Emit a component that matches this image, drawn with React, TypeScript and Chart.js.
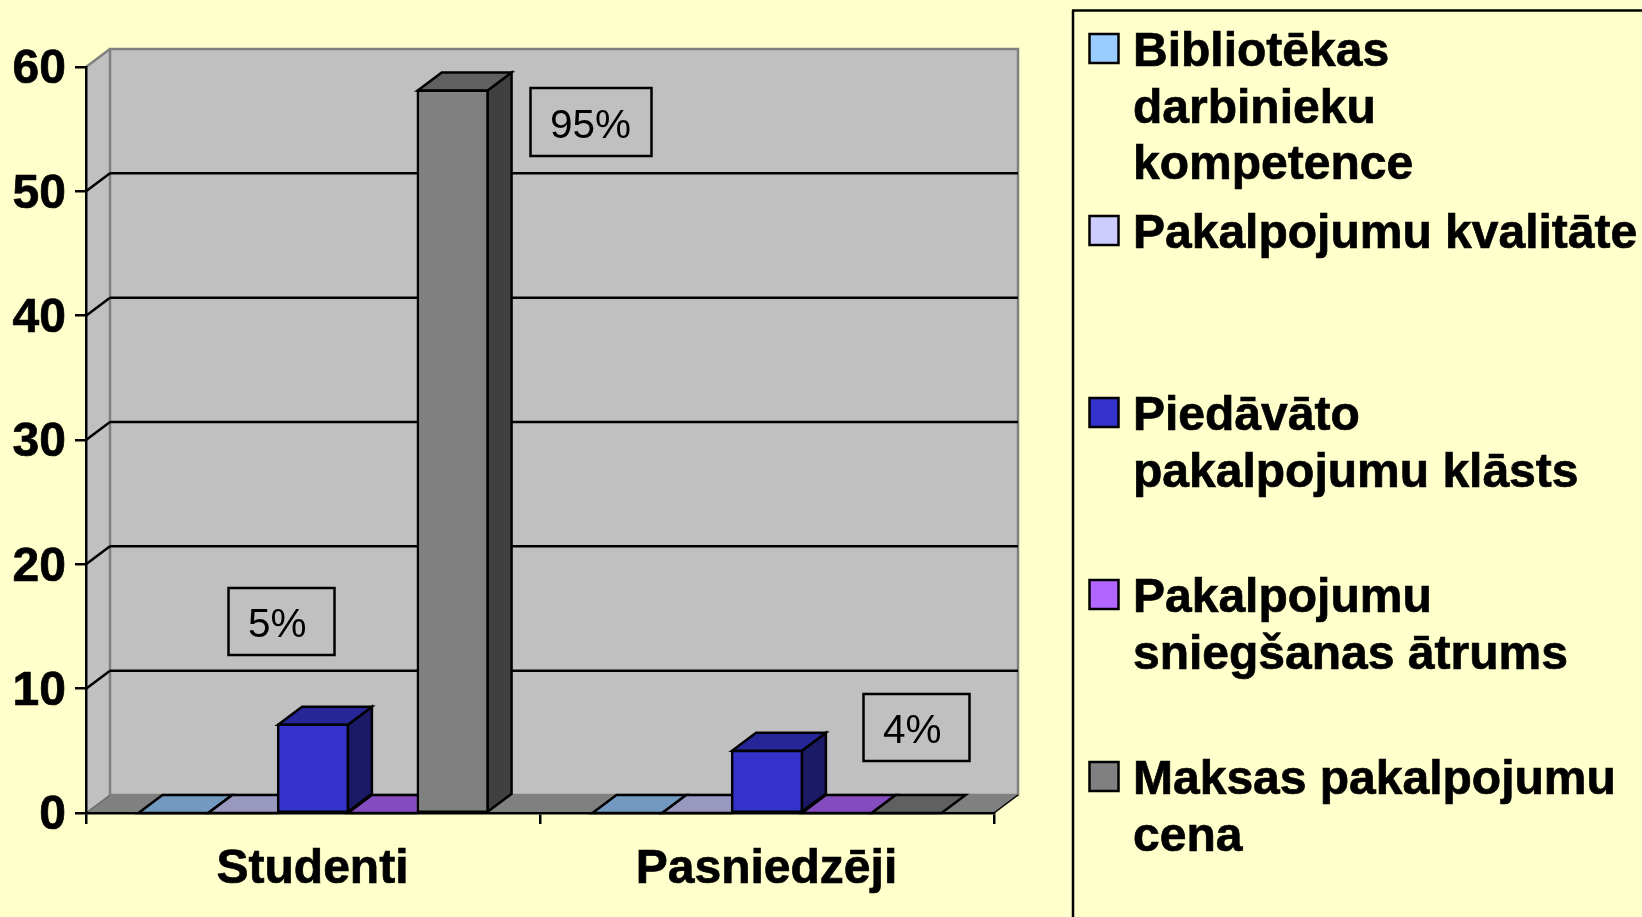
import React, { useEffect, useRef } from "react";
import { Chart, registerables } from "chart.js";

Chart.register(...registerables);

const categories = ["Studenti", "Pasniedzēji"];
const seriesNames = [
  "Bibliotēkas darbinieku kompetence",
  "Pakalpojumu kvalitāte",
  "Piedāvāto pakalpojumu klāsts",
  "Pakalpojumu sniegšanas ātrums",
  "Maksas pakalpojumu cena",
];
const legendLines = [
  ["Bibliotēkas", "darbinieku", "kompetence"],
  ["Pakalpojumu kvalitāte"],
  ["Piedāvāto", "pakalpojumu klāsts"],
  ["Pakalpojumu", "sniegšanas ātrums"],
  ["Maksas pakalpojumu", "cena"],
];
const kompetence = [0, 0];
const kvalitate = [0, 0];
const klasts = [7.1, 5];
const atrums = [0, 0];
const cena = [58.1, 0];
const seriesValues = [kompetence, kvalitate, klasts, atrums, cena];
const frontColors = ["#99CCFF", "#CCCCFF", "#3333CC", "#B266FF", "#808080"];
const topColors = ["#7299BF", "#9999BF", "#262699", "#854CBF", "#606060"];
const sideColors = ["#4C6680", "#666680", "#1A1A66", "#593380", "#404040"];
const calloutTexts = ["5%", "95%", "4%"];

const FONT = '"Liberation Sans", Arial, sans-serif';
const BG = "#FFFFCC";
const DX = 24;
const DY = -18;
const W = 1642;
const H = 917;
const PLOT = { left: 86, right: 994, top: 67, bottom: 813 };
const STROKE = 2.5;

const callouts = [
  { x: 228.5, y: 588, w: 106, h: 67, tx: 248, ty: 637 },
  { x: 530.5, y: 88, w: 121, h: 68, tx: 550, ty: 138 },
  { x: 863.5, y: 694, w: 106, h: 67, tx: 883, ty: 743 },
];

function poly(ctx: CanvasRenderingContext2D, pts: number[][], fill: string | null, stroke: string | null, lw = STROKE) {
  ctx.beginPath();
  pts.forEach((p, i) => (i ? ctx.lineTo(p[0], p[1]) : ctx.moveTo(p[0], p[1])));
  ctx.closePath();
  if (fill) {
    ctx.fillStyle = fill;
    ctx.fill();
  }
  if (stroke) {
    ctx.strokeStyle = stroke;
    ctx.lineWidth = lw;
    ctx.stroke();
  }
}

function line(ctx: CanvasRenderingContext2D, x1: number, y1: number, x2: number, y2: number, color: string, lw = STROKE) {
  ctx.beginPath();
  ctx.moveTo(x1, y1);
  ctx.lineTo(x2, y2);
  ctx.strokeStyle = color;
  ctx.lineWidth = lw;
  ctx.stroke();
}

const scene3d = {
  id: "scene3d",
  beforeDraw(chart: any) {
    const ctx = chart.ctx;
    const { left, right, top, bottom } = chart.chartArea;
    const y = chart.scales.y;
    ctx.save();
    // side wall, back wall, floor
    poly(ctx, [[left, top], [left + DX, top + DY], [left + DX, bottom + DY], [left, bottom]], "#C0C0C0", null);
    poly(ctx, [[left + DX, top + DY], [right + DX, top + DY], [right + DX, bottom + DY], [left + DX, bottom + DY]], "#C0C0C0", "#808080");
    line(ctx, left, top, left + DX, top + DY, "#808080");
    poly(ctx, [[left, bottom], [right, bottom], [right + DX, bottom + DY], [left + DX, bottom + DY]], "#808080", null);
    line(ctx, right, bottom, right + DX, bottom + DY, "#000000", 1.5);
    line(ctx, left, bottom, left + DX, bottom + DY, "#6a6a6a", 1.5);
    // gridlines on the walls
    y.ticks.forEach((t: any) => {
      if (t.value === 0 || t.value === y.max) return;
      const py = y.getPixelForValue(t.value);
      line(ctx, left, py, left + DX, py + DY, "#000000");
      line(ctx, left + DX, py + DY, right + DX, py + DY, "#000000");
    });
    ctx.restore();
  },
  beforeDatasetsDraw(chart: any) {
    const ctx = chart.ctx;
    ctx.save();
    ctx.lineJoin = "miter";
    categories.forEach((_, c) => {
      seriesValues.forEach((_s, d) => {
        const bar = chart.getDatasetMeta(d).data[c];
        const l = bar.x - bar.width / 2;
        const r = bar.x + bar.width / 2;
        const t = bar.y;
        const b = bar.base;
        if (b - t > 0.5) {
          poly(ctx, [[r, t], [r + DX, t + DY], [r + DX, b + DY], [r, b]], sideColors[d], "#000000");
        }
        poly(ctx, [[l, t], [r, t], [r + DX, t + DY], [l + DX, t + DY]], topColors[d], "#000000");
      });
    });
    ctx.restore();
  },
  afterDatasetsDraw(chart: any) {
    const ctx = chart.ctx;
    ctx.save();
    // callouts
    callouts.forEach((c, i) => {
      ctx.fillStyle = "#C0C0C0";
      ctx.fillRect(c.x, c.y, c.w, c.h);
      ctx.strokeStyle = "#000000";
      ctx.lineWidth = STROKE;
      ctx.strokeRect(c.x, c.y, c.w, c.h);
      ctx.fillStyle = "#000000";
      ctx.font = `40.5px ${FONT}`;
      ctx.textAlign = "left";
      ctx.textBaseline = "alphabetic";
      ctx.fillText(calloutTexts[i], c.tx, c.ty);
    });
    // legend box: open to the right and the bottom of the page
    line(ctx, 1073, 919, 1073, 10.5, "#000000");
    line(ctx, 1072, 10.5, W + 2, 10.5, "#000000");
    legendLines.forEach((lines, i) => {
      const sq = 34 + i * 182;
      ctx.fillStyle = frontColors[i];
      ctx.fillRect(1089.5, sq, 29, 29);
      ctx.strokeStyle = "#000000";
      ctx.lineWidth = STROKE;
      ctx.strokeRect(1089.5, sq, 29, 29);
      ctx.fillStyle = "#000000";
      ctx.strokeStyle = "#000000";
      ctx.lineWidth = 0.7;
      ctx.font = `bold 48px ${FONT}`;
      ctx.textAlign = "left";
      ctx.textBaseline = "alphabetic";
      lines.forEach((text, k) => {
        const ty = 66 + i * 182 + k * 56.5;
        ctx.fillText(text, 1133, ty);
        ctx.strokeText(text, 1133, ty);
      });
    });
    ctx.restore();
  },
};

export default function App() {
  const ref = useRef<HTMLCanvasElement | null>(null);
  useEffect(() => {
    const chart = new Chart(ref.current!, {
      type: "bar",
      data: {
        labels: categories,
        datasets: seriesValues.map((values, i) => ({
          label: seriesNames[i],
          data: values,
          backgroundColor: frontColors[i],
          borderColor: "#000000",
          borderWidth: STROKE,
          borderSkipped: false,
          inflateAmount: 1.2,
          categoryPercentage: 0.769,
          barPercentage: 1,
        })),
      },
      options: {
        animation: false,
        responsive: false,
        devicePixelRatio: 1,
        events: [],
        layout: { padding: { left: 0, top: PLOT.top, right: W - PLOT.right, bottom: 0 } },
        plugins: { legend: { display: false }, tooltip: { enabled: false }, title: { display: false } },
        scales: {
          x: {
            offset: true,
            afterFit: (s: any) => {
              s.height = H - PLOT.bottom;
            },
            grid: { offset: true, drawOnChartArea: false, drawTicks: true, tickLength: 11, color: "#000000", lineWidth: STROKE },
            border: { color: "#000000", width: STROKE },
            ticks: { color: "#000000", font: { family: FONT, size: 48, weight: "bold" }, padding: 17, maxRotation: 0, labelOffset: -0.5, textStrokeColor: "#000000", textStrokeWidth: 0.7 },
          },
          y: {
            min: 0,
            max: 60,
            afterFit: (s: any) => {
              s.width = PLOT.left;
            },
            grid: { drawOnChartArea: false, drawTicks: true, tickLength: 11, color: "#000000", lineWidth: STROKE },
            border: { color: "#000000", width: STROKE },
            ticks: { stepSize: 10, color: "#000000", font: { family: FONT, size: 48, weight: "bold" }, padding: 9, labelOffset: 3, textStrokeColor: "#000000", textStrokeWidth: 0.7 },
          },
        },
      },
      plugins: [scene3d],
    } as any);
    return () => chart.destroy();
  }, []);
  return (
    <div style={{ position: "fixed", left: 0, top: 0, width: W, height: H, background: BG, overflow: "hidden" }}>
      <canvas ref={ref} width={W} height={H} style={{ display: "block" }} />
    </div>
  );
}
